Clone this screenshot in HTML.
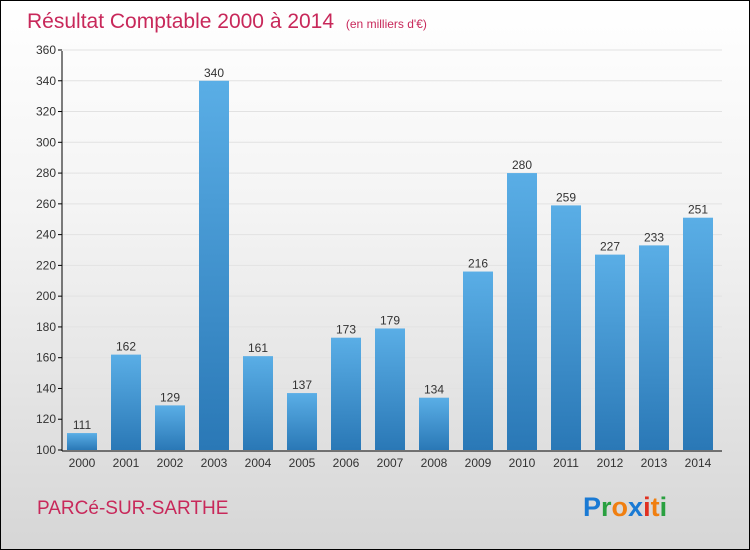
<!DOCTYPE html>
<html><head><meta charset="utf-8"><style>
body{margin:0}
#wrap{width:748px;height:548px;border:1px solid #000;background:linear-gradient(#ffffff,#f3f3f3 40%,#d6d6d6);position:relative;font-family:"Liberation Sans",sans-serif;overflow:hidden}
</style></head><body>
<div id="wrap">
<svg width="748" height="548" xmlns="http://www.w3.org/2000/svg" id="svg">
<defs><linearGradient id="bg" x1="0" y1="0" x2="0" y2="1"><stop offset="0" stop-color="#5aaee6"/><stop offset="1" stop-color="#2a78b6"/></linearGradient></defs>
<text x="26" y="27" font-size="21" fill="#c8285a">Résultat Comptable 2000 à 2014 <tspan font-size="12" dx="6">(en milliers d'€)</tspan></text>
<text x="36" y="513" font-size="19" fill="#c8285a">PARCé-SUR-SARTHE</text>
<g font-size="27" font-weight="bold">
<text x="582" y="515"><tspan fill="#1a7ad4">P</tspan><tspan fill="#2aa040">r</tspan><tspan fill="#f07f10">o</tspan><tspan fill="#1a7ad4">x</tspan><tspan fill="#e03020">i</tspan><tspan fill="#f07f10">t</tspan><tspan fill="#2aa040">i</tspan></text></g>
<g id="plot"></g>
</svg></div>
<script>
const years=["2000","2001","2002","2003","2004","2005","2006","2007","2008","2009","2010","2011","2012","2013","2014"];
const values=[111,162,129,340,161,137,173,179,134,216,280,259,227,233,251];
const ticks=[100,120,140,160,180,200,220,240,260,280,300,320,340,360];
const NS="http://www.w3.org/2000/svg";
const g=document.getElementById('plot');
const y=v=>449-(v-100)*(400/260);
const x=i=>81+i*44;
function mk(t,a){const e=document.createElementNS(NS,t);for(const k in a)e.setAttribute(k,a[k]);g.appendChild(e);return e;}
ticks.forEach(t=>{
 const gl=mk('line',{x1:61,x2:721,y1:y(t),y2:y(t),stroke:'#e2e2e2','stroke-width':1});
 
 
 const tk=mk('line',{x1:57,x2:61,y1:y(t),y2:y(t),stroke:'#000'});
 
 
 const tl=mk('text',{x:55,y:y(t)+4,'font-size':12,'text-anchor':'end',fill:'#333'});
 tl.textContent=t;
 
 
});
values.forEach((v,i)=>{
 const b=mk('rect',{x:x(i)-15,y:y(v),width:30,height:y(100)-y(v),fill:'url(#bg)'});
 
 
 const vl=mk('text',{x:x(i),y:y(v)-4,'font-size':12,'text-anchor':'middle',fill:'#333'});
 vl.textContent=v;
 
 
 const xl=mk('text',{x:x(i),y:466,'font-size':12,'text-anchor':'middle',fill:'#333'});
 xl.textContent=years[i];
 
 
});
const ya=mk('line',{x1:61,x2:61,y1:50,y2:450,stroke:'#000'});


const xa=mk('line',{x1:61,x2:721,y1:450,y2:450,stroke:'#000'});


</script>
</body></html>
